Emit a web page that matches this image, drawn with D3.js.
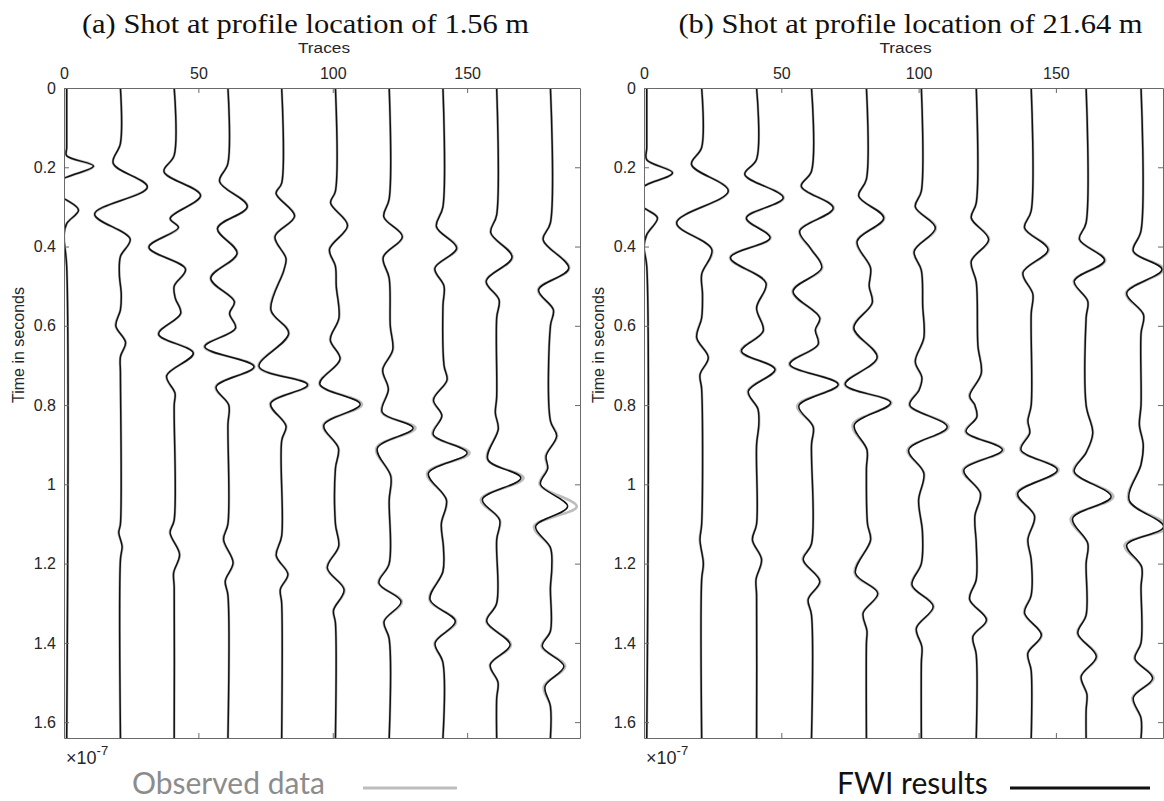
<!DOCTYPE html>
<html>
<head>
<meta charset="utf-8">
<script src="https://cdn.jsdelivr.net/npm/d3@7/dist/d3.min.js"></script>
<style>
  html, body { margin: 0; padding: 0; background: #ffffff; }
  svg { display: block; }
</style>
</head>
<body>
<svg id="chart" width="1164" height="801"></svg>
<script>
// Trace numbers that are plotted (every 20th receiver)
const traceIds = [1, 21, 41, 61, 81, 101, 121, 141, 161, 181];
const timeTicks = [0, 0.2, 0.4, 0.6, 0.8, 1.0, 1.2, 1.4, 1.6];
const traceTicks = [0, 50, 100, 150];

// Each trace: [time (s, x1e-7), amplitude in trace units]
// Shot (a), FWI result
const fwiA = [
  [[0,0],[0.15,0],[0.171,0],[0.197,10],[0.225,0],[0.255,-9],[0.283,0],[0.308,4.4],[0.342,0],[0.37,-1],[0.45,0],[1.64,0]],
  [[0,0],[0.14,0],[0.19,-2.7],[0.25,10],[0.318,-9.6],[0.381,3.6],[0.425,0],[0.47,-0.4],[0.52,0.3],[0.56,0],[0.6,-1.7],[0.642,1.9],[0.678,0],[0.72,0],[1.1,0],[1.122,-0.6],[1.156,0.6],[1.19,0],[1.64,0]],
  [[0,0],[0.17,0],[0.211,-3.8],[0.271,9.8],[0.329,-1.5],[0.352,1.6],[0.402,-9.4],[0.457,4.2],[0.5,0],[0.53,0.4],[0.569,2.4],[0.621,-5.8],[0.669,7.1],[0.726,-2.8],[0.77,0.3],[0.8,0],[1.09,0],[1.122,-1.5],[1.177,2],[1.223,-0.2],[1.26,0],[1.64,0]],
  [[0,0],[0.19,0],[0.236,-3.1],[0.299,7.2],[0.354,-3.9],[0.417,3.4],[0.48,-6.4],[0.539,2.4],[0.569,0.6],[0.606,2.8],[0.653,-8.6],[0.703,9.7],[0.754,-4.4],[0.8,0.3],[0.85,0],[1.1,0],[1.139,-1.6],[1.198,1.9],[1.244,-1],[1.28,0],[1.64,0]],
  [[0,0],[0.24,0],[0.266,-2.1],[0.323,4.8],[0.375,-2.5],[0.43,1.6],[0.46,0.8],[0.56,-4],[0.619,2.6],[0.703,-8.4],[0.749,9.6],[0.796,-4.1],[0.853,1.6],[0.89,0],[1.13,0],[1.18,-2],[1.227,2.3],[1.265,-0.5],[1.3,0],[1.64,0]],
  [[0,0],[0.26,0],[0.29,-1.8],[0.347,4.5],[0.407,-2.2],[0.45,0],[0.5,0.3],[0.58,1.3],[0.635,-1.9],[0.684,1.7],[0.747,-5.8],[0.798,9.2],[0.851,-4.3],[0.909,1.1],[0.96,0],[1.1,0],[1.156,1.2],[1.211,-3],[1.266,3.2],[1.318,-0.7],[1.35,0],[1.64,0]],
  [[0,0],[0.28,0],[0.325,-2],[0.375,4.9],[0.427,-2.2],[0.48,0],[0.6,0.4],[0.661,1.3],[0.711,-2.4],[0.76,-0.3],[0.818,-2.6],[0.858,8.9],[0.909,-4.4],[0.98,0.6],[1.04,0],[1.2,0],[1.249,-3.8],[1.296,4.4],[1.346,-1.9],[1.39,0],[1.64,0]],
  [[0,0],[0.3,0],[0.35,-2.4],[0.404,5.1],[0.455,-3],[0.5,0.4],[0.55,0],[0.7,0.4],[0.737,1.5],[0.787,-3.5],[0.827,-0.4],[0.874,-3.6],[0.921,9],[0.972,-5.4],[1.04,1.3],[1.1,-0.6],[1.16,0.2],[1.22,0],[1.291,-4.8],[1.346,4.6],[1.4,-2.9],[1.45,0],[1.64,0]],
  [[0,0],[0.32,0],[0.365,-2.2],[0.427,5.7],[0.487,-3.9],[0.535,0.9],[0.58,0],[0.78,0],[0.82,-0.5],[0.86,0.6],[0.937,-3.3],[0.984,9],[1.038,-5.3],[1.09,1.1],[1.14,0],[1.3,0],[1.346,-3.7],[1.405,5],[1.455,-2.4],[1.5,0.5],[1.54,0],[1.64,0]],
  [[0,0],[0.34,0],[0.383,-2.7],[0.455,6.8],[0.509,-4.4],[0.56,1.1],[0.6,0],[0.84,0],[0.878,2.3],[0.928,-1.6],[0.96,-1],[1.0,-3.7],[1.056,6.4],[1.106,-5.5],[1.16,0],[1.21,0.5],[1.26,0],[1.37,0],[1.409,-3],[1.459,5],[1.51,-2],[1.56,0],[1.64,0]]
];

// Shot (a), observed data
const obsA = [
  [[0,0],[0.15,0],[0.171,0],[0.197,10],[0.225,0],[0.255,-9],[0.283,0],[0.308,4.4],[0.342,0],[0.37,-1],[0.45,0],[1.64,0]],
  [[0,0],[0.14,0],[0.19,-2.7],[0.25,10],[0.318,-9.6],[0.381,3.6],[0.425,0],[0.47,-0.4],[0.52,0.3],[0.56,0],[0.6,-1.8],[0.642,2],[0.678,0],[0.72,0],[1.1,0],[1.122,-0.7],[1.156,0.7],[1.19,0],[1.64,0]],
  [[0,0],[0.17,0],[0.211,-3.8],[0.271,9.9],[0.329,-1.5],[0.352,1.6],[0.402,-9.5],[0.457,4.3],[0.5,0],[0.53,0.4],[0.569,2.5],[0.621,-5.9],[0.669,7.2],[0.726,-2.9],[0.77,0.3],[0.8,0],[1.09,0],[1.122,-1.6],[1.177,2.1],[1.223,-0.2],[1.26,0],[1.64,0]],
  [[0,0],[0.19,0],[0.236,-3.1],[0.299,7.3],[0.354,-3.9],[0.417,3.5],[0.48,-6.5],[0.539,2.5],[0.569,0.6],[0.606,2.9],[0.653,-8.8],[0.703,9.9],[0.754,-4.6],[0.8,0.3],[0.85,0],[1.1,0],[1.139,-1.8],[1.198,2],[1.244,-1],[1.28,0],[1.64,0]],
  [[0,0],[0.24,0],[0.266,-2.1],[0.323,4.9],[0.375,-2.6],[0.43,1.6],[0.46,0.8],[0.56,-4.1],[0.619,2.7],[0.703,-8.6],[0.749,9.9],[0.796,-4.3],[0.853,1.7],[0.89,0],[1.13,0],[1.18,-2.1],[1.227,2.4],[1.265,-0.5],[1.3,0],[1.64,0]],
  [[0,0],[0.26,0],[0.29,-1.8],[0.347,4.6],[0.407,-2.3],[0.45,0],[0.5,0.3],[0.58,1.4],[0.635,-2],[0.684,1.8],[0.747,-6],[0.798,9.9],[0.851,-4.6],[0.909,1.2],[0.96,0],[1.1,0],[1.156,1.3],[1.211,-3.2],[1.266,3.4],[1.318,-0.8],[1.35,0],[1.64,0]],
  [[0,0],[0.28,0],[0.325,-2],[0.375,5],[0.427,-2.3],[0.48,0],[0.6,0.4],[0.661,1.4],[0.711,-2.5],[0.76,-0.3],[0.818,-2.8],[0.858,9.8],[0.909,-4.8],[0.98,0.7],[1.04,0],[1.2,0],[1.249,-4],[1.296,4.7],[1.346,-2],[1.39,0],[1.64,0]],
  [[0,0],[0.3,0],[0.35,-2.5],[0.404,5.3],[0.455,-3.1],[0.5,0.4],[0.55,0],[0.7,0.4],[0.737,1.6],[0.787,-3.7],[0.827,-0.4],[0.874,-3.9],[0.921,9.9],[0.972,-5.9],[1.04,1.4],[1.1,-0.6],[1.16,0.2],[1.22,0],[1.291,-5],[1.346,4.9],[1.4,-3.1],[1.45,0],[1.64,0]],
  [[0,0],[0.32,0],[0.365,-2.3],[0.427,5.9],[0.487,-4],[0.535,0.9],[0.58,0],[0.78,0],[0.82,-0.5],[0.86,0.6],[0.937,-3.5],[0.984,10],[1.038,-5.9],[1.09,1.2],[1.14,0],[1.3,0],[1.346,-3.9],[1.405,5.3],[1.455,-2.5],[1.5,0.5],[1.54,0],[1.64,0]],
  [[0,0],[0.34,0],[0.383,-2.8],[0.455,7],[0.509,-4.6],[0.56,1.1],[0.6,0],[0.84,0],[0.878,2.5],[0.928,-1.8],[0.96,-1.2],[1.0,-4],[1.056,9.8],[1.106,-6.1],[1.16,0],[1.21,0.6],[1.26,0],[1.37,0],[1.409,-3.3],[1.459,5.5],[1.51,-2.5],[1.56,0],[1.64,0]]
];

// Shot (b), FWI result
const fwiB = [
  [[0,0],[0.15,0],[0.181,0],[0.214,9.4],[0.244,0],[0.275,-8],[0.307,0],[0.328,3.9],[0.37,0],[0.4,-1],[0.45,0],[1.64,0]],
  [[0,0],[0.15,0],[0.193,-3.7],[0.26,9.7],[0.34,-9.1],[0.408,3.7],[0.47,0],[0.52,0.3],[0.58,0],[0.63,-1.8],[0.68,2.4],[0.723,-0.6],[0.76,0],[1.1,0],[1.14,-0.6],[1.2,0.6],[1.24,0],[1.64,0]],
  [[0,0],[0.18,0],[0.218,-4.3],[0.277,9.7],[0.328,-3.7],[0.378,4.9],[0.428,-9.5],[0.492,3.4],[0.555,0],[0.613,2.4],[0.664,-5.5],[0.71,6.7],[0.765,-3],[0.81,0.5],[0.85,0.8],[0.9,0],[1.1,0],[1.14,-1.5],[1.19,1.8],[1.24,-0.2],[1.28,0],[1.64,0]],
  [[0,0],[0.21,0],[0.248,-3.7],[0.303,7.9],[0.361,-4.3],[0.405,-0.3],[0.454,3.7],[0.513,-6.7],[0.58,3],[0.61,1.4],[0.647,2.4],[0.697,-7.9],[0.748,9.7],[0.802,-4.6],[0.855,0.6],[0.9,0],[1.15,0],[1.19,-3],[1.245,3],[1.29,-1.2],[1.33,0],[1.64,0]],
  [[0,0],[0.23,0],[0.273,-2.8],[0.328,6.3],[0.387,-3.4],[0.454,1.5],[0.5,1],[0.542,2.1],[0.605,-4.6],[0.68,3.9],[0.748,-7.7],[0.794,8.8],[0.85,-4.4],[0.913,0.2],[0.96,0],[1.1,0.4],[1.14,1.5],[1.224,-4],[1.275,4.1],[1.325,-1.2],[1.37,0.2],[1.4,0],[1.64,0]],
  [[0,0],[0.26,0],[0.3,-2.2],[0.353,5.1],[0.412,-2.6],[0.46,0],[0.55,0.5],[0.63,0.9],[0.69,-2.2],[0.731,0.2],[0.762,-0.8],[0.8,-4.2],[0.855,9.4],[0.913,-4.6],[0.972,0.9],[1.04,-1],[1.12,0.4],[1.2,0],[1.254,-3.4],[1.308,4.3],[1.363,-1.8],[1.41,0.2],[1.45,0],[1.64,0]],
  [[0,0],[0.29,0],[0.328,-1.8],[0.382,4.5],[0.437,-1.8],[0.49,0],[0.65,0.6],[0.72,1.8],[0.777,-2.4],[0.8,-0.5],[0.83,0.2],[0.867,-3.7],[0.913,9.5],[0.964,-4.5],[1.023,1.5],[1.08,-0.5],[1.15,0],[1.24,0],[1.29,-2.4],[1.342,3.7],[1.384,-1.2],[1.43,0],[1.64,0]],
  [[0,0],[0.31,0],[0.353,-2.4],[0.408,6.1],[0.466,-3],[0.52,0.6],[0.57,0],[0.8,0],[0.84,-1.2],[0.87,-0.5],[0.913,-3.7],[0.964,9.5],[1.023,-4.9],[1.08,1.2],[1.14,-1.2],[1.19,0],[1.28,0],[1.325,-2.4],[1.38,3.7],[1.426,-1.2],[1.47,0],[1.64,0]],
  [[0,0],[0.34,0],[0.382,-2.4],[0.435,6.7],[0.487,-4.3],[0.538,0.6],[0.58,0],[0.8,0],[0.871,2.4],[0.92,0],[0.968,-4.3],[1.031,9.1],[1.086,-4.9],[1.149,0.6],[1.2,0],[1.33,0],[1.376,-3],[1.434,3.7],[1.485,-1.8],[1.53,0.3],[1.57,0],[1.64,0]],
  [[0,0],[0.36,0],[0.412,-2.8],[0.458,7.6],[0.517,-5.2],[0.572,0.9],[0.62,0],[0.8,0],[0.85,-0.6],[0.9,0.8],[0.95,0],[1.04,-4.3],[1.107,8.2],[1.153,-5.2],[1.208,0.2],[1.26,0],[1.4,0],[1.44,-2.2],[1.489,4.2],[1.538,-2.8],[1.59,0],[1.64,0]]
];

// Shot (b), observed data
const obsB = [
  [[0,0],[0.15,0],[0.181,0],[0.214,9.4],[0.244,0],[0.275,-8],[0.307,0],[0.328,3.9],[0.37,0],[0.4,-1],[0.45,0],[1.64,0]],
  [[0,0],[0.15,0],[0.193,-3.7],[0.26,9.8],[0.34,-9.2],[0.408,3.8],[0.47,0],[0.52,0.3],[0.58,0],[0.63,-1.9],[0.68,2.5],[0.723,-0.6],[0.76,0],[1.1,0],[1.14,-0.7],[1.2,0.7],[1.24,0],[1.64,0]],
  [[0,0],[0.18,0],[0.218,-4.3],[0.277,9.9],[0.328,-3.8],[0.378,5.1],[0.428,-9.7],[0.492,3.5],[0.555,0],[0.613,2.5],[0.664,-5.8],[0.71,6.9],[0.765,-3.2],[0.81,0.5],[0.85,0.9],[0.9,0],[1.1,0],[1.14,-1.6],[1.19,1.9],[1.24,-0.2],[1.28,0],[1.64,0]],
  [[0,0],[0.21,0],[0.248,-3.8],[0.303,8.1],[0.361,-4.4],[0.41,0.2],[0.454,3.9],[0.513,-6.9],[0.58,3.1],[0.61,1.5],[0.647,2.5],[0.697,-8.1],[0.748,9.9],[0.802,-5.2],[0.855,0.7],[0.9,0],[1.15,0],[1.19,-3.2],[1.245,3.2],[1.29,-1.3],[1.33,0],[1.64,0]],
  [[0,0],[0.23,0],[0.273,-2.8],[0.328,6.5],[0.387,-3.5],[0.454,1.5],[0.5,1],[0.542,2.2],[0.605,-4.8],[0.68,4],[0.748,-7.9],[0.794,9.1],[0.85,-5],[0.913,0.2],[0.96,0],[1.1,0.4],[1.14,1.6],[1.224,-4.3],[1.275,4.3],[1.325,-1.3],[1.37,0.2],[1.4,0],[1.64,0]],
  [[0,0],[0.26,0],[0.3,-2.2],[0.353,5.3],[0.412,-2.7],[0.46,0],[0.55,0.5],[0.63,1],[0.69,-2.3],[0.731,0.2],[0.762,-0.9],[0.8,-4.4],[0.855,9.9],[0.913,-5],[0.972,1],[1.04,-1],[1.12,0.4],[1.2,0],[1.254,-3.6],[1.308,4.5],[1.363,-1.9],[1.41,0.2],[1.45,0],[1.64,0]],
  [[0,0],[0.29,0],[0.328,-1.9],[0.382,4.7],[0.437,-1.9],[0.49,0],[0.65,0.6],[0.72,1.9],[0.777,-2.6],[0.8,-0.6],[0.83,0.2],[0.867,-4],[0.913,10],[0.964,-4.9],[1.023,1.6],[1.08,-0.5],[1.15,0],[1.24,0],[1.29,-2.5],[1.342,3.9],[1.384,-1.3],[1.43,0],[1.64,0]],
  [[0,0],[0.31,0],[0.353,-2.5],[0.408,6.4],[0.466,-3.1],[0.52,0.6],[0.57,0],[0.8,0],[0.84,-1.3],[0.87,-0.6],[0.913,-4],[0.964,10],[1.023,-5.3],[1.08,1.3],[1.14,-1.3],[1.19,0],[1.28,0],[1.325,-2.6],[1.38,3.9],[1.426,-1.3],[1.47,0],[1.64,0]],
  [[0,0],[0.34,0],[0.382,-2.5],[0.435,7],[0.487,-4.5],[0.538,0.6],[0.58,0],[0.8,0],[0.871,2.5],[0.92,0],[0.968,-4.6],[1.031,9.9],[1.086,-5.6],[1.149,0.6],[1.2,0],[1.33,0],[1.376,-3.2],[1.434,4],[1.485,-1.9],[1.53,0.3],[1.57,0],[1.64,0]],
  [[0,0],[0.36,0],[0.412,-2.9],[0.458,8.2],[0.517,-5.5],[0.572,0.9],[0.62,0],[0.8,0],[0.85,-0.6],[0.9,0.8],[0.95,0],[1.04,-4.6],[1.107,9.8],[1.153,-6],[1.208,0.2],[1.26,0],[1.4,0],[1.44,-2.4],[1.489,4.6],[1.538,-3.1],[1.59,0],[1.64,0]]
];

const panels = [
  { key: "a", title: "(a) Shot at profile location of 1.56 m", titleX: 305.5,
    x0: 64, x1: 580, traceMax: 192, fwi: fwiA, obs: obsA, ylabelX: 24 },
  { key: "b", title: "(b) Shot at profile location of 21.64 m", titleX: 910.5,
    x0: 644, x1: 1163, traceMax: 189, fwi: fwiB, obs: obsB, ylabelX: 604 }
];

const svg = d3.select("#chart");
const plotTop = 88, plotBottom = 738;
const y = d3.scaleLinear().domain([0, 1.64]).range([plotTop, plotBottom]);
const axisColor = "#6a6a6a";
const sans = "'Liberation Sans', Arial, Helvetica, sans-serif";

// text whose glyphs are drawn slightly wider than tall
function wideText(parent, x, yPos, sx, anchor) {
  return parent.append("g")
    .attr("transform", `translate(${x},${yPos}) scale(${sx},1)`)
    .append("text")
    .attr("text-anchor", anchor);
}

const defs = svg.append("defs");

panels.forEach(p => {
  const x = d3.scaleLinear().domain([0, p.traceMax]).range([p.x0, p.x1]);
  const g = svg.append("g").attr("class", "panel-" + p.key);

  defs.append("clipPath").attr("id", "clip-" + p.key)
    .append("rect")
    .attr("x", p.x0).attr("y", plotTop)
    .attr("width", p.x1 - p.x0).attr("height", plotBottom - plotTop);

  // wiggle traces
  const line = d3.line()
    .x(d => d.x)
    .y(d => y(d.t))
    .curve(d3.curveCatmullRom.alpha(0.5));

  const toPts = (series, i) => series[i].map(([t, a]) => ({ t, x: x(traceIds[i] + a) }));

  const traces = g.append("g").attr("clip-path", "url(#clip-" + p.key + ")");
  traces.selectAll("path.obs")
    .data(traceIds.map((_, i) => toPts(p.obs, i)))
    .join("path")
    .attr("class", "obs")
    .attr("d", line)
    .attr("fill", "none")
    .attr("stroke", "#bdbdbd")
    .attr("stroke-width", 2.6)
    .attr("stroke-linejoin", "round");
  traces.selectAll("path.fwi")
    .data(traceIds.map((_, i) => toPts(p.fwi, i)))
    .join("path")
    .attr("class", "fwi")
    .attr("d", line)
    .attr("fill", "none")
    .attr("stroke", "#111111")
    .attr("stroke-width", 1.5)
    .attr("stroke-linejoin", "round");

  // axes box with inward ticks (top axis carries the trace labels)
  const axTop = g.append("g").attr("transform", `translate(0,${plotTop})`)
    .call(d3.axisTop(x).tickValues(traceTicks).tickSizeInner(-5).tickSizeOuter(0).tickPadding(9));
  const axBottom = g.append("g").attr("transform", `translate(0,${plotBottom})`)
    .call(d3.axisBottom(x).tickValues(traceTicks).tickSizeInner(-5).tickSizeOuter(0).tickFormat(""));
  const axLeft = g.append("g").attr("transform", `translate(${p.x0},0)`)
    .call(d3.axisLeft(y).tickValues(timeTicks).tickSizeInner(-5).tickSizeOuter(0).tickPadding(8)
      .tickFormat(d3.format("~g")));
  const axRight = g.append("g").attr("transform", `translate(${p.x1},0)`)
    .call(d3.axisRight(y).tickValues(timeTicks).tickSizeInner(-5).tickSizeOuter(0).tickFormat(""));

  [axTop, axBottom, axLeft, axRight].forEach(a => {
    a.select(".domain").attr("stroke", axisColor).attr("stroke-width", 1);
    a.selectAll(".tick line").attr("stroke", axisColor);
    a.selectAll(".tick text").attr("fill", "#262626")
      .style("font-family", sans).style("font-size", "16px");
  });

  // titles and labels
  wideText(g, p.titleX, 33, 1.09, "middle")
    .style("font-family", "'Liberation Serif', 'Times New Roman', serif")
    .style("font-size", "28px")
    .attr("fill", "#111")
    .text(p.title);

  wideText(g, (p.x0 + p.x1) / 2 + 2, 53, 1.15, "middle")
    .style("font-family", sans).style("font-size", "15px")
    .attr("fill", "#262626")
    .text("Traces");

  g.append("text")
    .attr("transform", `translate(${p.ylabelX},345) rotate(-90)`)
    .attr("text-anchor", "middle")
    .style("font-family", sans).style("font-size", "16px")
    .attr("fill", "#262626")
    .text("Time in seconds");

  const expo = g.append("text")
    .attr("x", p.x0 + 2).attr("y", 764)
    .style("font-family", sans).style("font-size", "18px")
    .attr("fill", "#262626");
  expo.append("tspan").text("\u00d710");
  expo.append("tspan").attr("dy", -9).style("font-size", "13px").text("-7");
});

// legend entries
const legendFont = "Lato, 'Open Sans', sans-serif";
svg.append("text")
  .attr("x", 132).attr("y", 794)
  .style("font-family", legendFont).style("font-size", "30px")
  .attr("fill", "#8c8c8c")
  .text("Observed data");
svg.append("line")
  .attr("x1", 363).attr("x2", 457).attr("y1", 788).attr("y2", 788)
  .attr("stroke", "#bdbdbd").attr("stroke-width", 3);

svg.append("text")
  .attr("x", 837).attr("y", 794)
  .style("font-family", legendFont).style("font-size", "30px")
  .attr("fill", "#111")
  .text("FWI results");
svg.append("line")
  .attr("x1", 1010).attr("x2", 1150).attr("y1", 788).attr("y2", 788)
  .attr("stroke", "#111").attr("stroke-width", 3);
</script>
</body>
</html>
